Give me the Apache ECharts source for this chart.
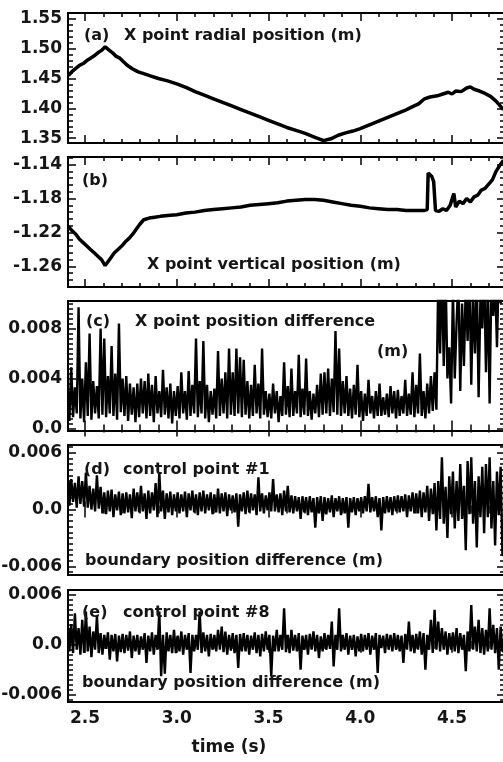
<!DOCTYPE html>
<html>
<head>
<meta charset="utf-8">
<script src="https://cdn.jsdelivr.net/npm/echarts@6/dist/echarts.min.js"></script>
<style>
html, body { margin: 0; padding: 0; background: #fff; }
#chart { width: 503px; height: 762px; }
</style>
</head>
<body>
<div id="chart"></div>
<script>
// time axis (s)
const timeMin = 2.4074, timeMax = 4.7888;
const timeTicks = [2.5, 3.0, 3.5, 4.0, 4.5];
const timeLabels = ['2.5', '3.0', '3.5', '4.0', '4.5'];

// (a) X point radial position (m)
const radialTime = [2.41, 2.43, 2.45, 2.47, 2.49, 2.51, 2.53, 2.55, 2.57, 2.59, 2.61, 2.63, 2.65, 2.67, 2.69, 2.71, 2.73, 2.76, 2.79, 2.82,
  2.86, 2.90, 2.95, 3.00, 3.05, 3.10, 3.15, 3.20, 3.25, 3.30, 3.35, 3.40, 3.45, 3.50, 3.55, 3.60, 3.65, 3.70, 3.75, 3.80,
  3.84, 3.88, 3.92, 3.96, 4.00, 4.04, 4.08, 4.12, 4.16, 4.20, 4.24, 4.28, 4.32, 4.35, 4.38, 4.42, 4.45, 4.48, 4.50, 4.52,
  4.55, 4.58, 4.60, 4.62, 4.65, 4.68, 4.71, 4.74, 4.76, 4.78];
const radialValue = [1.455, 1.462, 1.467, 1.472, 1.475, 1.480, 1.484, 1.488, 1.493, 1.497, 1.503, 1.498, 1.493, 1.487, 1.484, 1.478, 1.472, 1.466, 1.461, 1.458,
  1.454, 1.450, 1.446, 1.441, 1.435, 1.428, 1.422, 1.416, 1.410, 1.404, 1.398, 1.392, 1.386, 1.380, 1.374, 1.368, 1.363, 1.358, 1.352, 1.346,
  1.349, 1.355, 1.359, 1.362, 1.366, 1.371, 1.376, 1.381, 1.386, 1.391, 1.396, 1.402, 1.408, 1.416, 1.419, 1.421, 1.424, 1.427, 1.424, 1.429,
  1.428, 1.434, 1.436, 1.432, 1.429, 1.425, 1.420, 1.412, 1.405, 1.398];
const radialTicks = [1.35, 1.40, 1.45, 1.50, 1.55];
const radialLabels = ['1.35', '1.40', '1.45', '1.50', '1.55'];

// (b) X point vertical position (m)
const verticalTime = [2.41, 2.43, 2.45, 2.47, 2.49, 2.51, 2.53, 2.55, 2.57, 2.59, 2.61, 2.62, 2.64, 2.66, 2.68, 2.70, 2.72, 2.74, 2.76, 2.78,
  2.80, 2.82, 2.85, 2.88, 2.91, 2.95, 3.00, 3.05, 3.10, 3.15, 3.20, 3.25, 3.30, 3.35, 3.40, 3.45, 3.50, 3.55, 3.60, 3.65,
  3.70, 3.75, 3.80, 3.85, 3.90, 3.95, 4.00, 4.05, 4.10, 4.15, 4.20, 4.25, 4.30, 4.35, 4.365, 4.37, 4.39, 4.40, 4.41, 4.43,
  4.45, 4.47, 4.49, 4.51, 4.52, 4.54, 4.56, 4.58, 4.60, 4.62, 4.64, 4.66, 4.68, 4.70, 4.72, 4.74, 4.76, 4.78];
const verticalValue = [-1.213, -1.218, -1.222, -1.228, -1.232, -1.236, -1.240, -1.244, -1.248, -1.252, -1.259, -1.256, -1.250, -1.244, -1.240, -1.236, -1.231, -1.227, -1.222, -1.216,
  -1.210, -1.205, -1.203, -1.202, -1.201, -1.200, -1.199, -1.197, -1.196, -1.194, -1.193, -1.192, -1.191, -1.190, -1.188, -1.187, -1.186, -1.185, -1.183, -1.182,
  -1.181, -1.181, -1.182, -1.184, -1.186, -1.188, -1.189, -1.191, -1.192, -1.193, -1.193, -1.194, -1.194, -1.194, -1.193, -1.150, -1.154, -1.160, -1.194, -1.195,
  -1.192, -1.194, -1.188, -1.174, -1.190, -1.183, -1.186, -1.180, -1.184, -1.178, -1.176, -1.170, -1.168, -1.163, -1.158, -1.148, -1.141, -1.135];
const verticalTicks = [-1.26, -1.22, -1.18, -1.14];
const verticalLabels = ['-1.26', '-1.22', '-1.18', '-1.14'];

// noisy traces, one sample every 10 ms starting at 2.41 s
const sampleStart = 2.41, sampleStep = 0.01;

// (c) X point position difference (m)
const xpointDiff = [
  0.0030, 0.0006, 0.0049, 0.0009, 0.0033, 0.0012, 0.0097, 0.0008, 0.0040, 0.0005,
  0.0053, 0.0010, 0.0076, 0.0007, 0.0038, 0.0012, 0.0034, 0.0008, 0.0080, 0.0011,
  0.0072, 0.0009, 0.0042, 0.0012, 0.0066, 0.0010, 0.0044, 0.0007, 0.0084, 0.0013,
  0.0040, 0.0010, 0.0042, 0.0006, 0.0036, 0.0011, 0.0033, 0.0005, 0.0036, 0.0009,
  0.0040, 0.0012, 0.0038, 0.0008, 0.0044, 0.0010, 0.0035, 0.0005, 0.0042, 0.0012,
  0.0030, 0.0009, 0.0047, 0.0011, 0.0033, 0.0008, 0.0036, 0.0004, 0.0030, 0.0010,
  0.0034, 0.0008, 0.0045, 0.0012, 0.0030, 0.0007, 0.0046, 0.0010, 0.0035, 0.0012,
  0.0072, 0.0009, 0.0038, 0.0012, 0.0070, 0.0008, 0.0035, 0.0005, 0.0030, 0.0011,
  0.0032, 0.0008, 0.0062, 0.0010, 0.0040, 0.0012, 0.0045, 0.0008, 0.0064, 0.0011,
  0.0045, 0.0010, 0.0064, 0.0012, 0.0057, 0.0009, 0.0055, 0.0011, 0.0038, 0.0008,
  0.0035, 0.0010, 0.0051, 0.0012, 0.0036, 0.0008, 0.0064, 0.0011, 0.0030, 0.0009,
  0.0028, 0.0008, 0.0036, 0.0012, 0.0030, 0.0005, 0.0026, 0.0010, 0.0053, 0.0011,
  0.0034, 0.0009, 0.0048, 0.0010, 0.0030, 0.0012, 0.0059, 0.0009, 0.0032, 0.0011,
  0.0056, 0.0010, 0.0030, 0.0007, 0.0028, 0.0012, 0.0035, 0.0009, 0.0044, 0.0011,
  0.0045, 0.0012, 0.0048, 0.0010, 0.0040, 0.0013, 0.0078, 0.0011, 0.0064, 0.0010,
  0.0038, 0.0012, 0.0042, 0.0010, 0.0032, 0.0008, 0.0035, 0.0011, 0.0051, 0.0009,
  0.0030, 0.0006, 0.0028, 0.0010, 0.0039, 0.0012, 0.0026, 0.0008, 0.0030, 0.0010,
  0.0036, 0.0010, 0.0025, 0.0011, 0.0028, 0.0009, 0.0034, 0.0012, 0.0030, 0.0008,
  0.0031, 0.0010, 0.0026, 0.0012, 0.0039, 0.0010, 0.0028, 0.0011, 0.0045, 0.0009,
  0.0035, 0.0012, 0.0060, 0.0010, 0.0030, 0.0008, 0.0036, 0.0012, 0.0042, 0.0014,
  0.0045, 0.0015, 0.0120, 0.0060, 0.0130, 0.0050, 0.0125, 0.0040, 0.0065, 0.0020,
  0.0110, 0.0040, 0.0085, 0.0120, 0.0030, 0.0100, 0.0050, 0.0115, 0.0070, 0.0125,
  0.0035, 0.0110, 0.0060, 0.0120, 0.0025, 0.0105, 0.0080, 0.0130, 0.0045, 0.0115,
  0.0020, 0.0125, 0.0090, 0.0120, 0.0065, 0.0130, 0.0100, 0.0120
];
const diffTicks = [0, 0.004, 0.008];
const diffLabels = ['0.0', '0.004', '0.008'];

// (d) control point #1, boundary position difference (m)
const boundary1 = [
  0.0030, 0.0004, 0.0032, 0.0008, 0.0028, 0.0002, 0.0035, 0.0006, 0.0030, 0.0003,
  0.0039, 0.0002, 0.0025, 0.0000, 0.0022, -0.0002, 0.0036, 0.0001, 0.0024, -0.0004,
  0.0018, -0.0005, 0.0020, -0.0002, 0.0021, -0.0008, 0.0016, -0.0001, 0.0019, -0.0006,
  0.0017, -0.0004, 0.0018, -0.0003, 0.0016, -0.0009, 0.0022, -0.0002, 0.0018, -0.0003,
  0.0025, -0.0002, 0.0017, -0.0010, 0.0020, -0.0004, 0.0018, -0.0001, 0.0028, -0.0008,
  0.0039, -0.0002, 0.0020, -0.0010, 0.0017, -0.0003, 0.0019, -0.0006, 0.0016, -0.0002,
  0.0018, -0.0004, 0.0016, -0.0002, 0.0019, -0.0008, 0.0017, -0.0001, 0.0020, -0.0003,
  0.0016, -0.0006, 0.0018, -0.0002, 0.0020, -0.0004, 0.0016, -0.0001, 0.0018, -0.0005,
  0.0016, -0.0003, 0.0022, -0.0004, 0.0017, -0.0002, 0.0018, -0.0007, 0.0016, -0.0001,
  0.0015, -0.0003, 0.0017, -0.0018, 0.0016, -0.0002, 0.0018, -0.0005, 0.0020, -0.0003,
  0.0017, -0.0001, 0.0016, -0.0006, 0.0034, -0.0002, 0.0017, -0.0004, 0.0015, -0.0001,
  0.0018, -0.0002, 0.0032, -0.0002, 0.0016, -0.0003, 0.0017, -0.0006, 0.0020, -0.0002,
  0.0025, -0.0003, 0.0015, -0.0004, 0.0014, -0.0002, 0.0013, -0.0010, 0.0014, -0.0003,
  0.0013, -0.0006, 0.0014, -0.0003, 0.0012, -0.0019, 0.0013, -0.0004, 0.0014, -0.0012,
  0.0013, -0.0005, 0.0012, -0.0003, 0.0015, -0.0008, 0.0012, -0.0002, 0.0014, -0.0006,
  0.0012, -0.0004, 0.0013, -0.0019, 0.0012, -0.0003, 0.0013, -0.0006, 0.0012, -0.0002,
  0.0013, -0.0004, 0.0014, -0.0002, 0.0027, -0.0003, 0.0013, -0.0002, 0.0014, -0.0008,
  0.0012, -0.0022, 0.0013, -0.0004, 0.0014, -0.0003, 0.0013, -0.0006, 0.0014, -0.0002,
  0.0015, -0.0003, 0.0014, -0.0002, 0.0016, -0.0008, 0.0015, -0.0002, 0.0018, -0.0004,
  0.0017, -0.0004, 0.0020, -0.0008, 0.0018, -0.0003, 0.0025, -0.0012, 0.0022, -0.0005,
  0.0028, -0.0022, 0.0030, -0.0010, 0.0055, -0.0015, 0.0024, -0.0030, 0.0035, -0.0005,
  0.0040, -0.0020, 0.0030, -0.0012, 0.0048, -0.0010, 0.0025, -0.0043, 0.0051, -0.0005,
  0.0055, -0.0015, 0.0030, -0.0040, 0.0035, -0.0008, 0.0045, -0.0025, 0.0048, -0.0008,
  0.0055, -0.0020, 0.0030, -0.0038, 0.0040, -0.0006, 0.0045, -0.0048
];

// (e) control point #8, boundary position difference (m)
const boundary8 = [
  0.0020, -0.0008, 0.0025, -0.0010, 0.0038, -0.0006, 0.0020, -0.0012, 0.0030, -0.0010,
  0.0040, -0.0008, 0.0022, -0.0015, 0.0016, -0.0006, 0.0035, -0.0010, 0.0014, -0.0012,
  0.0012, -0.0005, 0.0015, -0.0018, 0.0012, -0.0008, 0.0013, -0.0020, 0.0011, -0.0009,
  0.0013, -0.0010, 0.0012, -0.0007, 0.0016, -0.0016, 0.0011, -0.0008, 0.0012, -0.0012,
  0.0010, -0.0006, 0.0014, -0.0022, 0.0011, -0.0008, 0.0015, -0.0012, 0.0012, -0.0006,
  0.0040, -0.0038, 0.0012, -0.0035, 0.0015, -0.0008, 0.0012, -0.0010, 0.0018, -0.0010,
  0.0011, -0.0008, 0.0016, -0.0012, 0.0012, -0.0006, 0.0014, -0.0034, 0.0012, -0.0008,
  0.0012, -0.0006, 0.0040, -0.0010, 0.0015, -0.0008, 0.0012, -0.0014, 0.0013, -0.0006,
  0.0012, -0.0008, 0.0018, -0.0006, 0.0022, -0.0009, 0.0016, -0.0012, 0.0012, -0.0007,
  0.0014, -0.0010, 0.0012, -0.0028, 0.0013, -0.0008, 0.0014, -0.0008, 0.0012, -0.0012,
  0.0011, -0.0006, 0.0015, -0.0010, 0.0012, -0.0014, 0.0013, -0.0008, 0.0016, -0.0006,
  0.0012, -0.0038, 0.0011, -0.0008, 0.0018, -0.0008, 0.0012, -0.0006, 0.0044, -0.0009,
  0.0012, -0.0010, 0.0018, -0.0007, 0.0012, -0.0008, 0.0014, -0.0030, 0.0011, -0.0006,
  0.0012, -0.0012, 0.0013, -0.0006, 0.0016, -0.0008, 0.0012, -0.0016, 0.0010, -0.0008,
  0.0014, -0.0006, 0.0012, -0.0005, 0.0028, -0.0026, 0.0012, -0.0006, 0.0044, -0.0008,
  0.0012, -0.0006, 0.0014, -0.0012, 0.0011, -0.0006, 0.0012, -0.0014, 0.0010, -0.0008,
  0.0013, -0.0008, 0.0012, -0.0006, 0.0014, -0.0012, 0.0011, -0.0006, 0.0014, -0.0034,
  0.0012, -0.0004, 0.0011, -0.0010, 0.0013, -0.0006, 0.0012, -0.0008, 0.0014, -0.0006,
  0.0012, -0.0008, 0.0011, -0.0022, 0.0013, -0.0006, 0.0028, -0.0008, 0.0012, -0.0010,
  0.0013, -0.0006, 0.0016, -0.0012, 0.0014, -0.0030, 0.0012, -0.0006, 0.0030, -0.0010,
  0.0042, -0.0006, 0.0028, -0.0008, 0.0020, -0.0006, 0.0016, -0.0012, 0.0014, -0.0006,
  0.0015, -0.0008, 0.0020, -0.0010, 0.0014, -0.0006, 0.0012, -0.0032, 0.0016, -0.0008,
  0.0048, -0.0006, 0.0022, -0.0008, 0.0030, -0.0010, 0.0020, -0.0012, 0.0018, -0.0008,
  0.0044, -0.0006, 0.0024, -0.0010, 0.0020, -0.0030, 0.0022, -0.0008
];
const boundaryTicks = [-0.006, 0, 0.006];
const boundaryLabels = ['-0.006', '0.0', '0.006'];

const chart = echarts.init(document.getElementById('chart'));

const sampled = vals => vals.map((v, i) => [+(sampleStart + i * sampleStep).toFixed(2), v]);
const paired = (ts, vs) => ts.map((t, i) => [t, vs[i]]);

const panels = [
    { top: 13, height: 130, min: 1.342, max: 1.5596, ticks: radialTicks, labels: radialLabels, minor: 0.01,
      data: paired(radialTime, radialValue), width: 3.5, step: false },
    { top: 157, height: 130, min: -1.2843, max: -1.131, ticks: verticalTicks, labels: verticalLabels, minor: 0.008,
      data: paired(verticalTime, verticalValue), width: 3.5, step: false },
    { top: 301, height: 130, min: -0.0002, max: 0.0102, ticks: diffTicks, labels: diffLabels, minor: 0.0004,
      data: sampled(xpointDiff), width: 2.4, step: 'middle' },
    { top: 445, height: 130, min: -0.0069, max: 0.0068, ticks: boundaryTicks, labels: boundaryLabels, minor: 0.0006,
      data: sampled(boundary1), width: 2.4, step: 'middle' },
    { top: 590, height: 112, min: -0.0069, max: 0.0066, ticks: boundaryTicks, labels: boundaryLabels, minor: 0.0006,
      data: sampled(boundary8), width: 2.4, step: 'middle' }
]

// tick positions: base + k*step inside [lo, hi]
function steps(lo, hi, base, step) {
    const out = []
    const k0 = Math.ceil((lo - base) / step - 1e-9)
    const k1 = Math.floor((hi - base) / step + 1e-9)
    for (let k = k0; k <= k1; k++) out.push(+(base + k * step).toFixed(6))
    return out
}

const labelFont = { fontSize: 17, fontWeight: 'bold', fontFamily: 'DejaVu Sans', color: '#161616' }
const tickStyle = { color: '#000', width: 1.5 }

function axis(gridIndex, position, min, max, tickValues, len, labelValues, labelTexts, margin) {
    const a = {
        type: 'value', gridIndex, position, min, max,
        axisLine: { show: false },
        splitLine: { show: false },
        axisTick: { show: true, inside: true, length: len, customValues: tickValues, lineStyle: tickStyle },
        axisLabel: { show: false }
    }
    if (labelValues) {
        a.axisLabel = Object.assign({
            show: true, margin,
            customValues: labelValues,
            formatter: v => {
                const i = labelValues.findIndex(t => Math.abs(t - v) < 1e-9)
                return i >= 0 ? labelTexts[i] : ''
            }
        }, labelFont)
    }
    return a
}

const grids = [], xAxes = [], yAxes = [], series = []
const xMinor = steps(timeMin, timeMax, 2.5, 0.1)
panels.forEach((p, g) => {
    grids.push({
        left: 68, right: -2, top: p.top, height: p.height,
        show: true, borderColor: '#000', borderWidth: 2, backgroundColor: 'transparent',
        containLabel: false, outerBoundsMode: 'none'
    })
    const last = g === panels.length - 1
    xAxes.push(axis(g, 'bottom', timeMin, timeMax, timeTicks, 8,
        last ? timeTicks : null, timeLabels, 8))
    xAxes.push(axis(g, 'bottom', timeMin, timeMax, xMinor, 4))
    xAxes.push(axis(g, 'top', timeMin, timeMax, timeTicks, 8))
    xAxes.push(axis(g, 'top', timeMin, timeMax, xMinor, 4))

    const yMinor = steps(p.min, p.max, p.ticks[0], p.minor)
    yAxes.push(axis(g, 'left', p.min, p.max, p.ticks, 8, p.ticks, p.labels, 6))
    yAxes.push(axis(g, 'left', p.min, p.max, yMinor, 5))
    yAxes.push(axis(g, 'right', p.min, p.max, p.ticks, 8))
    yAxes.push(axis(g, 'right', p.min, p.max, yMinor, 5))

    series.push({
        type: 'line', xAxisIndex: g * 4, yAxisIndex: g * 4,
        data: p.data, step: p.step, symbol: 'none', clip: true,
        lineStyle: { color: '#000', width: p.width, join: 'bevel' },
        silent: true
    })
})

// text written inside the panels
const notes = [
    ['(a)', 84, 36], ['X point radial position (m)', 124, 36],
    ['(b)', 82, 181], ['X point vertical position (m)', 147, 265],
    ['(c)', 86, 322], ['X point position difference', 135, 322], ['(m)', 377, 352],
    ['(d)', 84, 470], ['control point #1', 123, 470], ['boundary position difference (m)', 85, 561],
    ['(e)', 82, 613], ['control point #8', 123, 613], ['boundary position difference (m)', 82, 683]
]

const graphic = notes.map(([text, x, y]) => ({
    type: 'text', x, y, z: 100,
    style: { text, fontSize: 16, fontWeight: 'bold', fontFamily: 'DejaVu Sans', fill: '#161616', verticalAlign: 'middle' }
}))
graphic.push({
    type: 'text', x: 229, y: 748, z: 100,
    style: { text: 'time (s)', fontSize: 17, fontWeight: 'bold', fontFamily: 'DejaVu Sans', fill: '#161616', align: 'center', verticalAlign: 'middle' }
})

chart.setOption({
    animation: false,
    backgroundColor: '#fff',
    grid: grids,
    xAxis: xAxes,
    yAxis: yAxes,
    series,
    graphic
})
</script>
</body>
</html>
